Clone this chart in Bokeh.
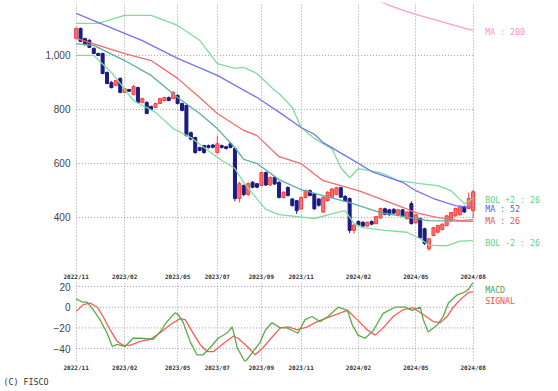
from bokeh.plotting import figure
from bokeh.layouts import column
from bokeh.models import Range1d, FixedTicker, NumeralTickFormatter, ColumnDataSource, Title
from bokeh.core.properties import value
from bokeh.embed import file_html
from bokeh.resources import INLINE

# ---- weekly candles (bar index 0..90) ----
opens = [1063, 1100, 1062, 1056, 1026, 1007, 1007, 937, 900, 889, 915, 863, 874, 855, 881, 826, 826, 811, 807, 822,
         833, 844, 840, 852, 822, 815, 714, 696, 659, 666, 666, 668, 640, 666, 662, 673, 655, 470, 518, 485,
         530, 525, 518, 566, 520, 548, 530, 474, 511, 468, 462, 431, 474, 499, 487, 468, 420, 462, 475, 485,
         510, 478, 470, 352, 385, 382, 368, 385, 377, 398, 432, 428, 430, 410, 428, 395, 451, 380, 396, 358,
         284, 333, 345, 355, 370, 388, 406, 410, 440, 433, 425]
highs = [1105, 1103, 1066, 1060, 1030, 1010, 1010, 940, 905, 910, 918, 880, 876, 890, 884, 843, 830, 814, 825, 843,
         847, 848, 868, 856, 825, 818, 718, 699, 662, 669, 670, 672, 703, 670, 665, 680, 658, 532, 522, 530,
         535, 528, 570, 570, 552, 551, 534, 497, 515, 472, 465, 478, 503, 503, 490, 472, 478, 497, 509, 513,
         514, 482, 474, 375, 389, 386, 385, 389, 406, 436, 436, 432, 434, 431, 431, 423, 460, 413, 400, 362,
         324, 365, 373, 378, 409, 421, 436, 443, 444, 492, 503]
lows = [1058, 1050, 1036, 1028, 1005, 998, 930, 893, 878, 886, 860, 860, 865, 852, 822, 822, 782, 797, 805, 820,
        830, 830, 838, 818, 793, 700, 686, 636, 645, 636, 655, 656, 637, 655, 652, 656, 460, 455, 478, 480,
        508, 508, 515, 517, 517, 520, 470, 470, 478, 440, 413, 428, 470, 478, 428, 440, 416, 458, 472, 482,
        472, 457, 342, 340, 368, 364, 365, 371, 374, 395, 408, 406, 412, 407, 402, 392, 374, 377, 322, 298,
        275, 330, 342, 352, 367, 385, 403, 407, 417, 430, 398]
closes = [1100, 1052, 1040, 1030, 1007, 1000, 933, 896, 881, 907, 863, 877, 867, 885, 826, 840, 785, 800, 822, 840,
          844, 833, 863, 822, 796, 703, 690, 640, 648, 640, 659, 660, 673, 659, 655, 659, 470, 525, 485, 525,
          512, 512, 566, 520, 548, 524, 474, 493, 481, 444, 425, 474, 499, 481, 432, 445, 474, 493, 505, 510,
          475, 460, 352, 372, 372, 368, 382, 375, 403, 433, 412, 410, 416, 428, 405, 420, 377, 410, 325, 303,
          321, 362, 370, 375, 406, 418, 433, 440, 420, 470, 495]

# ---- moving averages / bands (read at sample bars) ----
ma200_x = [69, 71, 74, 77, 80, 83, 86, 88, 90]
ma200_y = [1200, 1185, 1168, 1152, 1138, 1124, 1110, 1101, 1093]
ma52_x = [0, 11, 15, 23, 32, 41, 46, 51, 54, 56, 64, 67, 74, 77, 81, 86, 90]
ma52_y = [1156, 1082, 1055, 989, 926, 844, 790, 733, 708, 677, 600, 570, 530, 499, 470, 444, 436]
ma26_x = [0, 11, 17, 23, 28, 32, 38, 41, 46, 51, 56, 64, 73, 77, 82, 87, 90]
ma26_y = [1063, 1007, 981, 915, 844, 785, 722, 703, 625, 599, 536, 499, 444, 418, 399, 388, 392]
mid_x = [0, 4, 11, 17, 23, 28, 32, 36, 38, 41, 46, 51, 56, 62, 69, 73, 80, 90]
mid_y = [1044, 1037, 981, 926, 844, 785, 729, 658, 615, 600, 540, 503, 481, 455, 418, 407, 388, 385]
bolu_x = [0, 5, 11, 17, 23, 28, 32, 36, 38, 41, 45, 46, 49, 51, 54, 58, 60, 62, 64, 69, 73, 78, 82, 85, 88, 90]
bolu_y = [1119, 1119, 1148, 1148, 1111, 1056, 970, 952, 956, 933, 870, 859, 807, 733, 692, 655, 584, 547, 581, 566,
          536, 525, 518, 499, 451, 470]
boll_x = [0, 4, 8, 13, 18, 22, 26, 29, 33, 36, 38, 40, 43, 46, 54, 59, 61, 63, 65, 70, 75, 78, 80, 84, 87, 90]
boll_y = [1000, 1000, 937, 833, 789, 729, 696, 659, 611, 581, 529, 488, 430, 410, 396, 418, 425, 377, 362, 352,
          345, 321, 297, 295, 312, 314]

# ---- MACD panel ----
macd_x = [0, 1.4, 2.5, 3.9, 5.4, 7, 8.2, 9.3, 11.1, 12.9, 14.5, 17.5, 19, 20.6, 22.4, 23.1, 24.3, 25.9, 27.4, 28.8,
          30.4, 32.2, 34.2, 35.4, 36.5, 38.3, 40.1, 41.7, 42.9, 44.4, 46.3, 47.8, 49.2, 50.3, 51.9, 53.5, 55.3, 57.1,
          59.4, 61.5, 62.6, 63.9, 65.5, 67.3, 69.6, 72.3, 74.6, 76.2, 78, 78.7, 79.8, 81.9, 83.2, 84.4, 86.4, 87.8,
          88.9, 90]
macd_y = [8, 5, 5, -2.5, -12, -25, -38, -36, -38, -30, -30, -31, -24, -14, -5.5, -7, -15, -34, -46, -46,
          -39, -30, -25, -19, -39, -53, -43, -34, -22, -15, -20, -20, -23, -25, -12, -9, -14, -9,
          0, -3, -17, -27, -30, -23, -6, 0, 0, -3, 0, -12, -24, -17, -9, 4, 12, 14,
          17, 24]
sig_x = [0, 1.6, 3.2, 4.8, 6.1, 7.7, 9.3, 10.7, 12.2, 14.5, 16.8, 19, 21.3, 23.6, 24.7, 26.5, 28.1, 29.7, 31.1,
         33.1, 35.6, 36.7, 38.8, 40.6, 42.4, 44.4, 46.3, 48.1, 50.1, 52.4, 54.6, 57.6, 59.9, 61.5, 63.7, 66, 67.8,
         69.6, 71.9, 74.1, 76.4, 78.7, 81, 82.5, 84.1, 85.5, 87.5, 88.9, 90]
sig_y = [-4, 2.5, 4, 0, -9, -22, -33, -37, -37, -33, -31, -25, -17, -11, -12, -25, -36, -43, -43,
         -36, -28, -30, -38, -46, -39, -29, -20, -19, -22, -19, -14, -9, -5.5, -3, -12, -22, -27,
         -20, -9, -2.5, -0.5, -7, -14, -15, -9, 0, 9, 14, 15]

tick_idx = [0, 11, 23, 32, 42, 51, 64, 77, 90]
tick_labels = ["2022/11", "2023/02", "2023/05", "2023/07", "2023/09", "2023/11", "2024/02", "2024/05", "2024/08"]
price_ticks = [400, 600, 800, 1000]
macd_ticks = [-40, -20, 0, 20]

main_names = ["MA : 200", "BOL +2 : 26", "MA : 52", "MA : 26", "BOL -2 : 26"]
main_name_colors = ["#ff8fc8", "#5fd383", "#5a5af0", "#e85050", "#5fd383"]
macd_names = ["MACD", "SIGNAL"]
macd_name_colors = ["#4aa64a", "#ff4a4a"]

UP_FILL, UP_LINE, DOWN = "#ff7373", "#ff3a3a", "#1b1b82"
GRID = "#9a9a9a"
FRAME_LEFT = 73
FRAME_W = 485
PX_PER_BAR = 4.411

n = len(closes)
idx = list(range(n))
up = [c >= o for o, c in zip(opens, closes)]
src = ColumnDataSource(dict(
    x=idx, top=[max(o, c) for o, c in zip(opens, closes)], bottom=[min(o, c) for o, c in zip(opens, closes)],
    high=highs, low=lows,
    fill=[UP_FILL if u else DOWN for u in up], line=[UP_LINE if u else DOWN for u in up]))

x_start = -0.6
xr = Range1d(x_start, x_start + FRAME_W / PX_PER_BAR)


def style(p, yticks):
    p.outline_line_color = None
    p.background_fill_color = "white"
    p.border_fill_color = "white"
    for ax in (p.xaxis, p.yaxis):
        ax.axis_line_color = None
        ax.major_tick_line_color = None
        ax.minor_tick_line_color = None
        ax.major_tick_out = 0
        ax.major_tick_in = 0
        ax.minor_tick_out = 0
        ax.minor_tick_in = 0
    p.xaxis.ticker = FixedTicker(ticks=tick_idx)
    p.xaxis.major_label_overrides = {t: l for t, l in zip(tick_idx, tick_labels)}
    p.xaxis.major_label_text_align = "left"
    p.xaxis.major_label_text_font = "DejaVu Sans Mono"
    p.xaxis.major_label_text_font_style = "bold"
    p.xaxis.major_label_text_font_size = "6px"
    p.xaxis.major_label_text_color = "#333333"
    p.xaxis.major_label_standoff = 0
    p.yaxis.ticker = FixedTicker(ticks=yticks)
    p.yaxis.major_label_text_font = "Liberation Sans"
    p.yaxis.major_label_text_font_size = "10px"
    p.yaxis.major_label_text_color = "#444444"
    p.yaxis.major_label_standoff = 3
    p.xgrid.ticker = FixedTicker(ticks=tick_idx)
    p.xgrid.grid_line_color = GRID
    p.xgrid.grid_line_dash = "1 2"
    p.ygrid.grid_line_color = None
    # horizontal grid lines only across the dated span
    p.segment(x0=[tick_idx[0]] * len(yticks), x1=[tick_idx[-1]] * len(yticks), y0=yticks, y1=yticks,
              line_color=GRID, line_dash="1 2", line_width=1)


p1 = figure(frame_width=FRAME_W, frame_height=270, x_range=xr, y_range=Range1d(196, 1196),
            output_backend="svg", toolbar_location=None,
            min_border_left=FRAME_LEFT, min_border_right=0, min_border_top=2, min_border_bottom=10)
style(p1, price_ticks)
p1.yaxis.formatter = NumeralTickFormatter(format="0,0")

p1.segment(x0="x", x1="x", y0="low", y1="high", color="line", line_width=1, source=src)
p1.vbar(x="x", width=0.68, top="top", bottom="bottom", fill_color="fill", line_color="line", line_width=1, source=src)

LW = 1.3
p1.line(bolu_x, bolu_y, color="#7fdd9b", line_width=LW)
p1.line(boll_x, boll_y, color="#7fdd9b", line_width=LW)
p1.line(mid_x, mid_y, color="#5aaea6", line_width=LW)
p1.line(ma26_x, ma26_y, color="#f26c6c", line_width=LW)
p1.line(ma52_x, ma52_y, color="#7474f2", line_width=LW)
p1.line(ma200_x, ma200_y, color="#ff9ccf", line_width=LW)

lab_font = value("DejaVu Sans Mono")
main_last = [ma200_y[-1], bolu_y[-1], ma52_y[-1], ma26_y[-1], boll_y[-1]]
p1.text(x=[tick_idx[-1]] * len(main_names), y=main_last, text=main_names, text_color=main_name_colors,
        text_font=lab_font, text_font_size=value("8.3px"), text_baseline="middle", x_offset=12, y_offset=[2, 1, 1, 1, 2])

p2 = figure(frame_width=FRAME_W, frame_height=79, x_range=xr, y_range=Range1d(-52.5, 23.9),
            output_backend="svg", toolbar_location=None,
            min_border_left=FRAME_LEFT, min_border_right=0, min_border_top=0, min_border_bottom=29)
style(p2, macd_ticks)
p2.xaxis.major_label_standoff = 2
p2.line(sig_x, sig_y, color="#ff5a5a", line_width=LW)
p2.line(macd_x, macd_y, color="#5aaa4c", line_width=LW)
p2.text(x=[tick_idx[-1]] * 2, y=[macd_y[-1], sig_y[-1]], text=macd_names, text_color=macd_name_colors,
        text_font=lab_font, text_font_size=value("8.3px"), text_baseline="middle", x_offset=12, y_offset=[8, 9])
p2.add_layout(Title(text="(C) FISCO", align="left", offset=3 - FRAME_LEFT, standoff=2,
                    text_font="DejaVu Sans Mono", text_font_size="8.3px", text_font_style="normal",
                    text_color="#333333"), "below")

layout = column(p1, p2, spacing=0)

open("out.html", "w").write(file_html(layout, INLINE))
